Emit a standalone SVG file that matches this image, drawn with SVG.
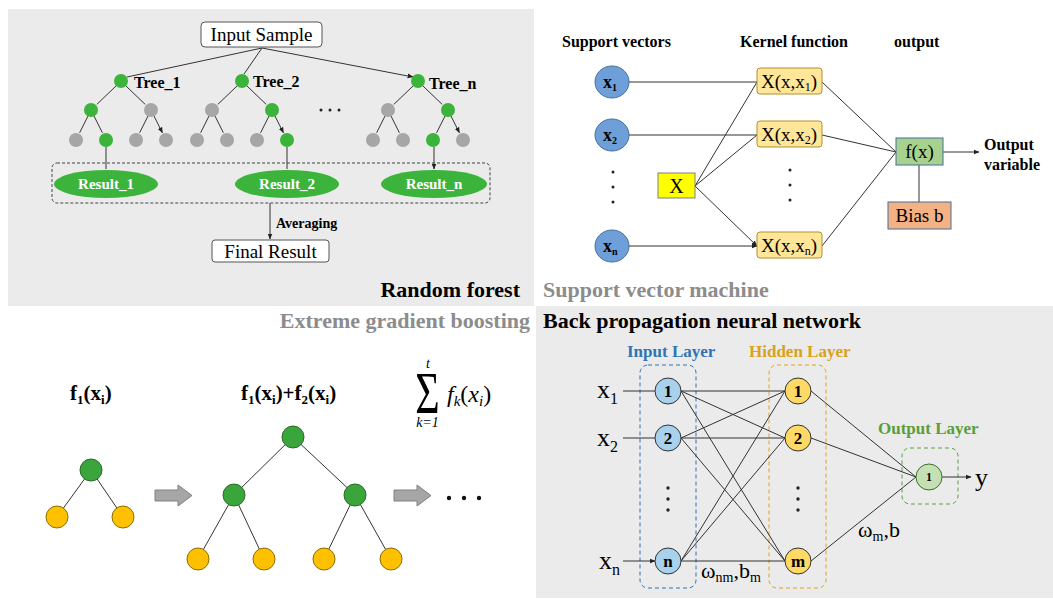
<svg xmlns="http://www.w3.org/2000/svg" width="1053" height="599" viewBox="0 0 1053 599">
<defs>
<marker id="ah" viewBox="0 0 10 10" markerWidth="6" markerHeight="6" refX="9" refY="5" orient="auto"><path d="M0,1 L10,5 L0,9 z" fill="#222"/></marker>
<style>
.serif{font-family:"Liberation Serif","Times New Roman",serif}
.b{font-weight:bold}
.e{stroke:#333;stroke-width:1;fill:none}
.ea{stroke:#333;stroke-width:1;fill:none;marker-end:url(#ah)}
.gn{fill:#3cb43c}
.gy{fill:#a6a6a6}
.box{fill:#fff;stroke:#555;stroke-width:1}
.kb{fill:#ffe699;stroke:#b38f2f;stroke-width:1}
.svc{fill:#6f9fd8;stroke:#41719c;stroke-width:1}
.xg{fill:#3aa53a;stroke:#2a6b2a;stroke-width:1}
.xo{fill:#ffc000;stroke:#8c6d00;stroke-width:1}
.inN{fill:#a8d1ee;stroke:#333;stroke-width:1}
.hdN{fill:#ffd966;stroke:#333;stroke-width:1}
.title{font-family:"Liberation Serif","Times New Roman",serif;font-weight:bold;font-size:22px}
</style>
</defs>
<rect x="0" y="0" width="1053" height="599" fill="#fff"/>
<rect x="8" y="9" width="526" height="297" fill="#ebebeb"/>
<rect x="536" y="306" width="517" height="292" fill="#ebebeb"/>

<!-- Random forest -->
<g id="rf-edges">
<path class="ea" d="M262,48 L127,77 M262,48 L244,74 M262,48 L413,77"/>
<path class="ea" d="M116,86 L96.8,104.4 M126,86 L145.2,104.4 M88,116 L79.6,132.8 M94,116 L102.4,132.8 M148,116 L139.6,132.8 M154,116 L162.4,132.8"/>
<path class="ea" d="M237,86 L217.8,104.4 M247,86 L266.2,104.4 M209,116 L200.6,132.8 M215,116 L223.4,132.8 M269,116 L260.6,132.8 M275,116 L283.4,132.8"/>
<path class="ea" d="M413,86 L393.8,104.4 M423,86 L442.2,104.4 M385,116 L376.6,132.8 M391,116 L399.4,132.8 M445,116 L436.6,132.8 M451,116 L459.4,132.8"/>
<path class="ea" d="M106,147 L106,169 M287,147 L287,169 M434,147 L434,169"/>
<path class="ea" d="M270,203 L270,239"/>
</g>
<g id="rf-input"><rect class="box" x="201" y="22" width="121" height="25" rx="4"/><text class="serif" x="261.5" y="41" font-size="19" text-anchor="middle">Input Sample</text></g>
<g id="rf-tree1">
<circle class="gn" cx="121" cy="81" r="7"/><circle class="gn" cx="91" cy="110" r="7"/><circle class="gy" cx="151" cy="110" r="7"/>
<circle class="gy" cx="76" cy="140" r="7"/><circle class="gn" cx="106" cy="140" r="7"/><circle class="gy" cx="136" cy="140" r="7"/><circle class="gy" cx="166" cy="140" r="7"/>
<text class="serif b" x="134" y="88" font-size="16">Tree_1</text>
</g>
<g id="rf-tree2">
<circle class="gn" cx="242" cy="81" r="7"/><circle class="gy" cx="212" cy="110" r="7"/><circle class="gn" cx="272" cy="110" r="7"/>
<circle class="gy" cx="197" cy="140" r="7"/><circle class="gy" cx="227" cy="140" r="7"/><circle class="gy" cx="257" cy="140" r="7"/><circle class="gn" cx="287" cy="140" r="7"/>
<text class="serif b" x="253" y="87" font-size="16">Tree_2</text>
</g>
<g id="rf-dots"><circle cx="321" cy="110" r="1.5" fill="#222"/><circle cx="330" cy="110" r="1.5" fill="#222"/><circle cx="339" cy="110" r="1.5" fill="#222"/></g>
<g id="rf-treen">
<circle class="gn" cx="418" cy="81" r="7"/><circle class="gy" cx="388" cy="110" r="7"/><circle class="gn" cx="448" cy="110" r="7"/>
<circle class="gy" cx="373" cy="140" r="7"/><circle class="gy" cx="403" cy="140" r="7"/><circle class="gn" cx="433" cy="140" r="7"/><circle class="gy" cx="463" cy="140" r="7"/>
<text class="serif b" x="429" y="89" font-size="16">Tree_n</text>
</g>
<g id="rf-results">
<rect x="52" y="163" width="438" height="40" rx="5" fill="none" stroke="#444" stroke-dasharray="3,2"/>
<ellipse class="gn" cx="106" cy="184" rx="52" ry="14"/><text class="serif b" x="106" y="189" font-size="15" fill="#fff" text-anchor="middle">Result_1</text>
<ellipse class="gn" cx="287" cy="184" rx="52" ry="14"/><text class="serif b" x="287" y="189" font-size="15" fill="#fff" text-anchor="middle">Result_2</text>
<ellipse class="gn" cx="434" cy="184" rx="53" ry="14"/><text class="serif b" x="434" y="189" font-size="15" fill="#fff" text-anchor="middle">Result_n</text>
</g>
<text class="serif b" x="276" y="228" font-size="14">Averaging</text>
<g id="rf-final"><rect class="box" x="212" y="240" width="117" height="22" rx="3"/><text class="serif" x="270.5" y="258" font-size="19" text-anchor="middle">Final Result</text></g>
<text class="title" x="520" y="297" text-anchor="end">Random forest</text>

<!-- SVM -->
<text class="serif b" x="562" y="47" font-size="16">Support vectors</text>
<text class="serif b" x="740" y="47" font-size="16">Kernel function</text>
<text class="serif b" x="894" y="47" font-size="16">output</text>
<g id="svm-edges">
<path class="ea" d="M629,82 L757,82 M629,135 L757,135 M629,246 L757,246"/>
<path class="ea" d="M695,186 L757,82 M695,186 L757,135 M695,186 L757,246"/>
<path class="e" d="M822,82 L896,152 M822,135 L896,152 M822,246 L896,152"/>
<path class="ea" d="M943,152 L979,152"/>
<path class="e" d="M919,165 L919,202"/>
</g>
<g id="svm-x1"><ellipse class="svc" cx="612" cy="82" rx="17" ry="16"/><text class="serif b" x="603" y="88" font-size="18">x<tspan font-size="10" dy="3">1</tspan></text></g>
<g id="svm-x2"><ellipse class="svc" cx="612" cy="135" rx="17" ry="16"/><text class="serif b" x="603" y="141" font-size="18">x<tspan font-size="10" dy="3">2</tspan></text></g>
<g id="svm-dots"><circle cx="613" cy="172" r="1.5" fill="#222"/><circle cx="613" cy="187" r="1.5" fill="#222"/><circle cx="613" cy="202" r="1.5" fill="#222"/></g>
<g id="svm-xn"><ellipse class="svc" cx="612" cy="246" rx="17" ry="16"/><text class="serif b" x="603" y="252" font-size="18">x<tspan font-size="10" dy="3">n</tspan></text></g>
<g id="svm-X"><rect x="658" y="173" width="37" height="25" fill="#ffff00" stroke="#7f7f7f"/><text class="serif" x="676.5" y="193" font-size="20" text-anchor="middle">X</text></g>
<g id="svm-k1"><rect class="kb" x="757" y="68" width="65" height="26" rx="3"/><text class="serif" x="761" y="88" font-size="19">X(x,x<tspan font-size="12" dy="3">1</tspan><tspan dy="-3">)</tspan></text></g>
<g id="svm-k2"><rect class="kb" x="757" y="121" width="65" height="26" rx="3"/><text class="serif" x="761" y="141" font-size="19">X(x,x<tspan font-size="12" dy="3">2</tspan><tspan dy="-3">)</tspan></text></g>
<g id="svm-kdots"><circle cx="790" cy="170" r="1.5" fill="#222"/><circle cx="790" cy="185" r="1.5" fill="#222"/><circle cx="790" cy="200" r="1.5" fill="#222"/></g>
<g id="svm-kn"><rect class="kb" x="757" y="232" width="65" height="26" rx="3"/><text class="serif" x="761" y="252" font-size="19">X(x,x<tspan font-size="12" dy="3">n</tspan><tspan dy="-3">)</tspan></text></g>
<g id="svm-f"><rect x="896" y="138" width="47" height="27" fill="#a9d18e" stroke="#41719c"/><text class="serif" x="919.5" y="158" font-size="19" text-anchor="middle">f(x)</text></g>
<g id="svm-bias"><rect x="888" y="202" width="63" height="27" fill="#f4b183" stroke="#41719c"/><text class="serif" x="919.5" y="222" font-size="19" text-anchor="middle">Bias b</text></g>
<text class="serif b" x="984" y="150" font-size="16">Output</text>
<text class="serif b" x="984" y="170" font-size="16">variable</text>
<text class="title" x="543" y="297" fill="#8c8c8c">Support vector machine</text>

<!-- XGBoost -->
<text class="title" x="530" y="328" text-anchor="end" fill="#8c8c8c">Extreme gradient boosting</text>
<text class="serif b" x="70" y="400" font-size="21">f<tspan font-size="13" dy="4">1</tspan><tspan dy="-4">(x</tspan><tspan font-size="13" dy="4">i</tspan><tspan dy="-4">)</tspan></text>
<text class="serif b" x="241" y="400" font-size="21">f<tspan font-size="13" dy="4">1</tspan><tspan dy="-4">(x</tspan><tspan font-size="13" dy="4">i</tspan><tspan dy="-4">)+f</tspan><tspan font-size="13" dy="4">2</tspan><tspan dy="-4">(x</tspan><tspan font-size="13" dy="4">i</tspan><tspan dy="-4">)</tspan></text>
<g id="xgb-sum">
<text x="428" y="368" font-size="14" font-style="italic" text-anchor="middle" font-family="'Liberation Serif',serif">t</text>
<text transform="translate(427.5,413) scale(1.05,1.5)" x="0" y="0" font-size="40" text-anchor="middle" font-family="'Liberation Serif',serif">Σ</text>
<text x="427.5" y="427" font-size="14" font-style="italic" text-anchor="middle" font-family="'Liberation Serif',serif">k=1</text>
<text x="447" y="402" font-size="24" font-style="italic" font-family="'Liberation Serif',serif">f<tspan font-size="15" dy="4">k</tspan><tspan dy="-4" font-style="normal">(</tspan>x<tspan font-size="15" dy="4">i</tspan><tspan dy="-4" font-style="normal">)</tspan></text>
</g>
<g id="xgb-tree1">
<path class="e" d="M91,470 L57,517 M91,470 L123,517"/>
<circle class="xg" cx="91" cy="470" r="11"/><circle class="xo" cx="57" cy="517" r="11"/><circle class="xo" cx="123" cy="517" r="11"/>
</g>
<polygon id="xgb-arrow1" points="155,490 178,490 178,485 192,495.5 178,506 178,501 155,501" fill="#a6a6a6" stroke="#808080"/>
<g id="xgb-tree2">
<path class="e" d="M293,437 L234,495 M293,437 L355,495 M234,495 L198,559 M234,495 L264,559 M355,495 L324,559 M355,495 L391,559"/>
<circle class="xg" cx="293" cy="437" r="11"/><circle class="xg" cx="234" cy="495" r="11"/><circle class="xg" cx="355" cy="495" r="11"/>
<circle class="xo" cx="198" cy="559" r="11"/><circle class="xo" cx="264" cy="559" r="11"/><circle class="xo" cx="324" cy="559" r="11"/><circle class="xo" cx="391" cy="559" r="11"/>
</g>
<polygon id="xgb-arrow2" points="394,490 417,490 417,485 431,495.5 417,506 417,501 394,501" fill="#a6a6a6" stroke="#808080"/>
<g id="xgb-dots"><circle cx="449" cy="498" r="2.2" fill="#111"/><circle cx="464" cy="498" r="2.2" fill="#111"/><circle cx="479" cy="498" r="2.2" fill="#111"/></g>

<!-- BPNN -->
<text class="title" x="543" y="328">Back propagation neural network</text>
<text class="serif b" x="627" y="357" font-size="17" fill="#2e75b6">Input Layer</text>
<text class="serif b" x="749" y="357" font-size="17" fill="#d9a21b">Hidden Layer</text>
<text class="serif b" x="878" y="434" font-size="17" fill="#5a9e3a">Output Layer</text>
<rect x="640" y="365" width="56" height="223" rx="8" fill="none" stroke="#2e75b6" stroke-dasharray="4,3"/>
<rect x="769" y="365" width="57" height="223" rx="8" fill="none" stroke="#e0a21c" stroke-dasharray="4,3"/>
<rect x="902" y="448" width="56" height="56" rx="8" fill="none" stroke="#5a9e3a" stroke-dasharray="4,3"/>
<g id="bp-edges">
<path class="ea" d="M623,391 L655,391 M623,438 L655,438 M623,561 L655,561"/>
<path class="e" d="M681,391 L785,391 M681,391 L785,438 M681,391 L785,561 M681,438 L785,391 M681,438 L785,438 M681,438 L785,561 M681,561 L785,391 M681,561 L785,438 M681,561 L785,561"/>
<path class="e" d="M811,391 L916,477 M811,438 L916,477 M811,561 L916,477"/>
<path class="ea" d="M942,477 L971,477"/>
</g>
<g id="bp-x"><text class="serif" font-size="26" x="597" y="398">x<tspan font-size="16" dy="6">1</tspan></text>
<text class="serif" font-size="26" x="597" y="446">x<tspan font-size="16" dy="6">2</tspan></text>
<text class="serif" font-size="26" x="599" y="569">x<tspan font-size="16" dy="6">n</tspan></text></g>
<g id="bp-in1"><circle class="inN" cx="668" cy="391" r="13"/><text class="serif b" x="668" y="397" font-size="17" text-anchor="middle">1</text></g>
<g id="bp-in2"><circle class="inN" cx="668" cy="438" r="13"/><text class="serif b" x="668" y="444" font-size="17" text-anchor="middle">2</text></g>
<g id="bp-indots"><circle cx="668" cy="488" r="1.7" fill="#222"/><circle cx="668" cy="499" r="1.7" fill="#222"/><circle cx="668" cy="510" r="1.7" fill="#222"/></g>
<g id="bp-inn"><circle class="inN" cx="668" cy="561" r="13"/><text class="serif b" x="668" y="567" font-size="17" text-anchor="middle">n</text></g>
<g id="bp-h1"><circle class="hdN" cx="798" cy="391" r="13"/><text class="serif b" x="798" y="397" font-size="17" text-anchor="middle">1</text></g>
<g id="bp-h2"><circle class="hdN" cx="798" cy="438" r="13"/><text class="serif b" x="798" y="444" font-size="17" text-anchor="middle">2</text></g>
<g id="bp-hdots"><circle cx="798" cy="488" r="1.7" fill="#222"/><circle cx="798" cy="499" r="1.7" fill="#222"/><circle cx="798" cy="510" r="1.7" fill="#222"/></g>
<g id="bp-hm"><circle class="hdN" cx="798" cy="561" r="13"/><text class="serif b" x="798" y="567" font-size="17" text-anchor="middle">m</text></g>
<g id="bp-out"><circle cx="929" cy="477" r="13" fill="#c5e0b4" stroke="#3d6e2a"/><text class="serif b" x="929" y="481" font-size="12" text-anchor="middle">1</text></g>
<text class="serif" x="975" y="486" font-size="26">y</text>
<text class="serif" x="858" y="537" font-size="22">ω<tspan font-size="14" dy="4">m</tspan><tspan dy="-4">,b</tspan></text>
<text class="serif" x="701" y="578" font-size="22">ω<tspan font-size="14" dy="4">nm</tspan><tspan dy="-4">,b</tspan><tspan font-size="14" dy="4">m</tspan></text>
</svg>
